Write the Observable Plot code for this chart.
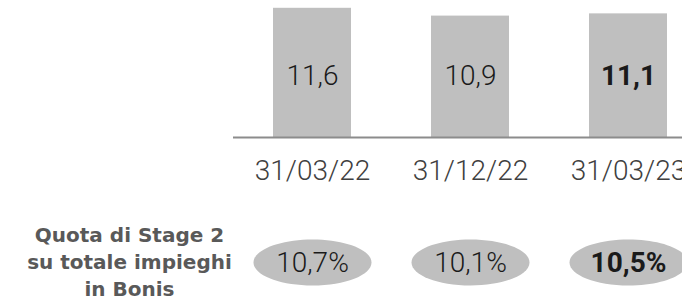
<!DOCTYPE html>
<html><head><meta charset="utf-8">
<script src="https://cdn.jsdelivr.net/npm/d3@7"></script>
<script src="https://cdn.jsdelivr.net/npm/@observablehq/plot@0.6"></script>
<style>html,body{margin:0;padding:0;background:#fff;} svg{display:block}</style>
</head><body><div id="chart"></div>
<script>
const dates = ["31/03/22", "31/12/22", "31/03/23"];
const stage2 = [11.6, 10.9, 11.1];
const stage2Labels = ["11,6", "10,9", "11,1"];
const shareLabels = ["10,7%", "10,1%", "10,5%"];
const highlight = [false, false, true];
const rowLabel = "Quota di Stage 2\nsu totale impieghi\nin Bonis";

const data = dates.map((d, i) => ({date: d, value: stage2[i], label: stage2Labels[i], share: shareLabels[i], bold: highlight[i]}));

const ellipse = {
  draw(ctx, size) {
    const r = Math.sqrt(size / Math.PI);
    const rx = r, ry = r * 23 / 59, k = 0.5523;
    ctx.moveTo(rx, 0);
    ctx.bezierCurveTo(rx, ry * k, rx * k, ry, 0, ry);
    ctx.bezierCurveTo(-rx * k, ry, -rx, ry * k, -rx, 0);
    ctx.bezierCurveTo(-rx, -ry * k, -rx * k, -ry, 0, -ry);
    ctx.bezierCurveTo(rx * k, -ry, rx, -ry * k, rx, 0);
    ctx.closePath();
  }
};

const num = {fontFamily: "Roboto, sans-serif", fontSize: 28, fill: "#1a1a1a"};

const chart = Plot.plot({
  width: 682, height: 301,
  marginTop: 0, marginBottom: 164, marginLeft: 233, marginRight: 0,
  x: {type: "band", domain: dates, range: [233, 707], paddingInner: 0.506, paddingOuter: 0.253},
  y: {domain: [0, 12.3], axis: null},
  style: {fontFamily: "Roboto, sans-serif", background: "white", color: "#404040", overflow: "hidden"},
  marks: [
    Plot.barY(data, {x: "date", y: "value", fill: "#bfbfbf"}),
    Plot.ruleY([0], {stroke: "#8c8c8c", strokeWidth: 2}),
    Plot.text(data, {filter: d => !d.bold, x: "date", text: "label", frameAnchor: "bottom", dy: -61, lineAnchor: "middle", fontWeight: 300, ...num}),
    Plot.text(data, {filter: d => d.bold, x: "date", text: "label", frameAnchor: "bottom", dy: -61, lineAnchor: "middle", fontWeight: "bold", ...num}),
    Plot.axisX({tickSize: 0, tickPadding: 23, fontSize: 28, fontWeight: 300, label: null}),
    Plot.dot(data, {x: "date", frameAnchor: "bottom", dy: 125, r: 59, symbol: ellipse, fill: "#bfbfbf", stroke: null}),
    Plot.text(data, {filter: d => !d.bold, x: "date", text: "share", frameAnchor: "bottom", dy: 126, lineAnchor: "middle", fontWeight: 300, ...num}),
    Plot.text(data, {filter: d => d.bold, x: "date", text: "share", frameAnchor: "bottom", dy: 126, lineAnchor: "middle", fontWeight: "bold", ...num}),
    Plot.text([rowLabel], {text: d => d, frameAnchor: "bottom-left", dx: -104, dy: 123, lineAnchor: "middle", lineHeight: 1.35, textAnchor: "middle", fontFamily: "DejaVu Sans", fontWeight: "bold", fontSize: 20, fill: "#595959"})
  ]
});
document.getElementById("chart").appendChild(chart);
</script>
</body></html>
